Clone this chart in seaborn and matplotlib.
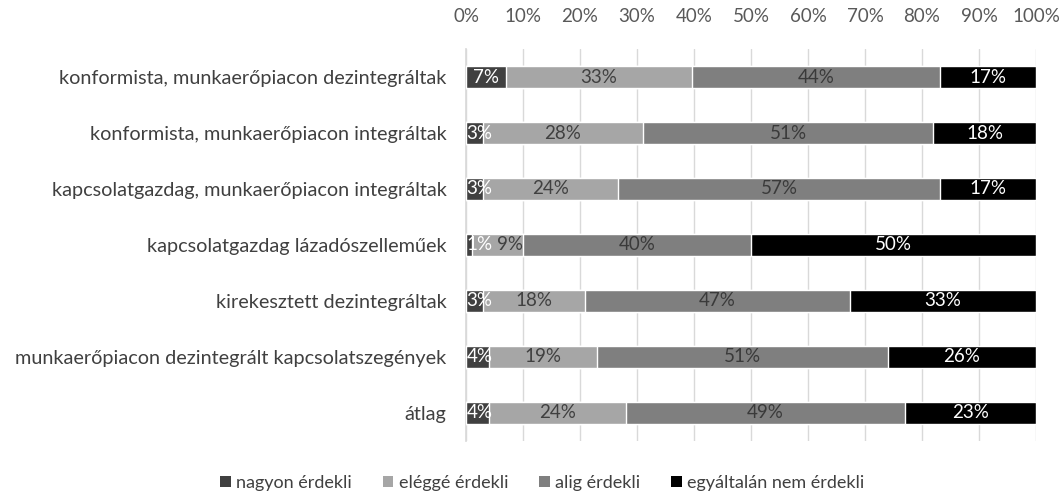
import numpy as np
import pandas as pd
import matplotlib
matplotlib.use("Agg")
import matplotlib.pyplot as plt
import seaborn as sns
from matplotlib.patches import Patch

categories = [
    "konformista, munkaerőpiacon dezintegráltak",
    "konformista, munkaerőpiacon integráltak",
    "kapcsolatgazdag, munkaerőpiacon integráltak",
    "kapcsolatgazdag lázadószelleműek",
    "kirekesztett dezintegráltak",
    "munkaerőpiacon dezintegrált kapcsolatszegények",
    "átlag",
]
series_names = ["nagyon érdekli", "eléggé érdekli", "alig érdekli", "egyáltalán nem érdekli"]
nagyon = [7, 3, 3, 1, 3, 4, 4]
eleg = [33, 28, 24, 9, 18, 19, 24]
alig = [44, 51, 57, 40, 47, 51, 49]
egyaltalan = [17, 18, 17, 50, 33, 26, 23]
tick_labels = ["0%", "10%", "20%", "30%", "40%", "50%", "60%", "70%", "80%", "90%", "100%"]

colors = ["#404040", "#a6a6a6", "#7f7f7f", "#000000"]
label_colors = ["white", "#404040", "#3a3a3a", "white"]
FS = 14

sns.set_theme(style="white")
plt.rcParams["font.family"] = ["Lato", "DejaVu Sans"]

raw = np.array([nagyon, eleg, alig, egyaltalan], dtype=float)
share = raw / raw.sum(axis=0) * 100
cum = np.cumsum(share, axis=0)

fig = plt.figure(figsize=(10.61, 4.96), dpi=100)
ax = fig.add_axes([466 / 1061, 1 - 441 / 496, (1036 - 466) / 1061, 392 / 496])

for i in range(3, -1, -1):
    df = pd.DataFrame({"cat": categories, "val": cum[i]})
    sns.barplot(data=df, x="val", y="cat", color=colors[i], saturation=1,
                width=0.4, ax=ax, orient="h", zorder=3)

ax.set_xlim(0, 100)
ax.set_ylim(6.5, -0.5)

texts = [[None] * len(categories) for _ in range(4)]
for i in range(4):
    starts = cum[i] - share[i]
    for j in range(len(categories)):
        if i == 0 and share[i][j] < 5:
            x, ha = starts[j] + 0.1, "left"
        else:
            x, ha = starts[j] + share[i][j] / 2, "center"
        texts[i][j] = ax.text(x, j, f"{int(raw[i][j])}%", ha=ha, va="center",
                              color=label_colors[i], fontsize=FS - 0.5, zorder=5)

# push a label right if it collides with the previous one in the same row
fig.canvas.draw()
renderer = fig.canvas.get_renderer()
inv = ax.transData.inverted()
for j in range(len(categories)):
    for i in range(1, 4):
        prev = texts[i - 1][j].get_window_extent(renderer)
        cur = texts[i][j].get_window_extent(renderer)
        gap = prev.x1 + 4 - cur.x0
        if gap > 0:
            x0, _ = texts[i][j].get_position()
            xd = inv.transform((ax.transData.transform((x0, j))[0] + gap, 0))[0]
            texts[i][j].set_x(xd)

ax.xaxis.tick_top()
ax.set_xticks(np.arange(0, 101, 10))
ax.set_xticklabels(tick_labels, color="#595959", fontsize=FS - 0.5)
ax.tick_params(axis="x", length=0, pad=17)
ax.tick_params(axis="y", length=0, pad=14, labelsize=FS + 0.3, labelcolor="#404040")
ax.set_xlabel("")
ax.set_ylabel("")
ax.grid(axis="x", color="#d9d9d9", linewidth=1, zorder=0)
ax.set_axisbelow(True)
for s in ["top", "right", "bottom"]:
    ax.spines[s].set_visible(False)
ax.spines["left"].set_color("#d9d9d9")

handles = [Patch(facecolor=c, edgecolor="none") for c in colors]
fig.legend(handles, series_names, loc="center", bbox_to_anchor=(0.511, 0.026), ncol=4,
           frameon=False, fontsize=13, handlelength=0.6, handleheight=0.6,
           handletextpad=0.3, columnspacing=1.7, labelcolor="#404040")

fig.savefig("out.png", dpi=100)
